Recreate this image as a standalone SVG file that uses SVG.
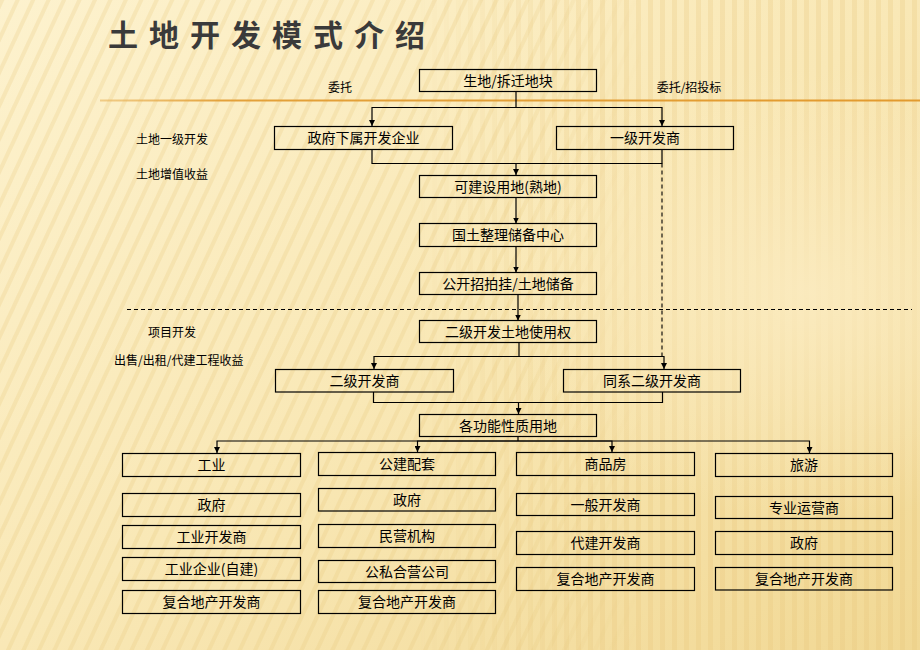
<svg xmlns="http://www.w3.org/2000/svg" width="920" height="650" viewBox="0 0 920 650">
<defs>
<linearGradient id="bg" x1="0" y1="0" x2="1" y2="1">
<stop offset="0" stop-color="#FDF2CE"/>
<stop offset="0.5" stop-color="#F9E8B6"/>
<stop offset="1" stop-color="#F1D894"/>
</linearGradient>
<radialGradient id="glow" cx="0.88" cy="0.45" r="0.35">
<stop offset="0" stop-color="#FBEBC0" stop-opacity="0.9"/>
<stop offset="1" stop-color="#FBEBC0" stop-opacity="0"/>
</radialGradient>
<pattern id="diag" width="14" height="14" patternUnits="userSpaceOnUse" patternTransform="rotate(25)">
<rect width="14" height="14" fill="none"/>
<rect width="4" height="14" fill="#E8C97A" opacity="0.25"/>
</pattern>
<pattern id="vert" width="12" height="12" patternUnits="userSpaceOnUse">
<rect width="5" height="12" fill="#E6C477" opacity="0.25"/>
</pattern>
<linearGradient id="leftfade" x1="0" y1="0" x2="1" y2="0">
<stop offset="0" stop-color="#fff" stop-opacity="1"/>
<stop offset="0.55" stop-color="#fff" stop-opacity="1"/>
<stop offset="0.7" stop-color="#fff" stop-opacity="0"/>
</linearGradient>
<linearGradient id="rightfade" x1="0" y1="0" x2="1" y2="0">
<stop offset="0.45" stop-color="#fff" stop-opacity="0"/>
<stop offset="0.65" stop-color="#fff" stop-opacity="1"/>
</linearGradient>
<mask id="mLeft"><rect width="920" height="650" fill="url(#leftfade)"/></mask>
<mask id="mRight"><rect width="920" height="650" fill="url(#rightfade)"/></mask>
<linearGradient id="orange" x1="100" y1="0" x2="920" y2="0" gradientUnits="userSpaceOnUse">
<stop offset="0" stop-color="#E9B45A" stop-opacity="0.6"/>
<stop offset="0.15" stop-color="#E3A13A"/>
<stop offset="1" stop-color="#E29A2E"/>
</linearGradient>
<marker id="arr" markerWidth="6" markerHeight="6" refX="3" refY="6" orient="0" markerUnits="userSpaceOnUse">
<path d="M0,0 L6,0 L3,6 z" fill="#000"/>
</marker>
<style>
.box{fill:none;stroke:#000;stroke-width:1.2}
.t{font-family:"Noto Sans CJK SC","Liberation Sans",sans-serif;font-size:14px;fill:#000;text-anchor:middle}
.lbl{font-family:"Noto Sans CJK SC","Liberation Sans",sans-serif;font-size:12px;fill:#000}
.c{fill:none;stroke:#000;stroke-width:1.2}
.ca{fill:none;stroke:#000;stroke-width:1.2;marker-end:url(#arr)}
.d{fill:none;stroke:#000;stroke-width:1.1;stroke-dasharray:4 3}
</style>
</defs>
<rect width="920" height="650" fill="url(#bg)"/>
<rect width="920" height="650" fill="url(#diag)" mask="url(#mLeft)"/>
<rect width="920" height="650" fill="url(#vert)" mask="url(#mRight)"/>
<rect width="920" height="650" fill="url(#glow)"/>
<g id="title">
<text x="108" y="46" font-family="'Noto Sans CJK SC',sans-serif" font-size="30" font-weight="bold" letter-spacing="11" fill="#3a3a3a">土地开发模式介绍</text>
</g>
<line x1="100" y1="100.5" x2="920" y2="100.5" stroke="url(#orange)" stroke-width="2"/>
<line x1="127" y1="309.5" x2="912" y2="309.5" class="d"/>
<g id="labels">
<text class="lbl" x="340" y="92" text-anchor="middle">委托</text>
<text class="lbl" x="689" y="92" text-anchor="middle">委托/招投标</text>
<text class="lbl" x="136" y="144">土地一级开发</text>
<text class="lbl" x="136" y="179">土地增值收益</text>
<text class="lbl" x="148" y="337">项目开发</text>
<text class="lbl" x="114" y="365">出售/出租/代建工程收益</text>
</g>
<g id="connectors">
<path class="c" d="M516,92 V107.5"/>
<path class="ca" d="M516,107.5 H372 V126"/>
<path class="ca" d="M516,107.5 H662 V126"/>
<path class="ca" d="M372,149.5 V163.5 H516 V175"/>
<path class="c" d="M662,149.5 V163.5 H516"/>
<path class="d" d="M662,163.5 V356"/>
<path class="ca" d="M516,197.5 V223.5"/>
<path class="ca" d="M516,246.5 V272.5"/>
<path class="ca" d="M518,295 V320.5"/>
<path class="c" d="M519,342.5 V356.5"/>
<path class="ca" d="M519,356.5 H374 V369"/>
<path class="ca" d="M519,356.5 H664 V369"/>
<path class="ca" d="M373.5,392 V402.5 H518.5 V414"/>
<path class="c" d="M662.5,392 V402.5 H518.5"/>
<path class="c" d="M518,437 V441"/>
<path class="ca" d="M518,441 H217 V453"/>
<path class="ca" d="M518,441 H417.5 V452"/>
<path class="ca" d="M518,441 H612 V452"/>
<path class="ca" d="M518,441 H809.5 V453"/>
</g>
<g id="n_shengdi"><rect class="box" x="419.5" y="69.5" width="177" height="22"/><text class="t" x="508" y="85.5">生地/拆迁地块</text></g>
<g id="n_zhengfuxiashu"><rect class="box" x="274.5" y="126.5" width="178" height="23"/><text class="t" x="363.5" y="143">政府下属开发企业</text></g>
<g id="n_yiji"><rect class="box" x="556.5" y="126.5" width="177" height="23"/><text class="t" x="645" y="143">一级开发商</text></g>
<g id="n_kejian"><rect class="box" x="419.5" y="175.5" width="177" height="22"/><text class="t" x="508" y="191.5">可建设用地(熟地)</text></g>
<g id="n_guotu"><rect class="box" x="419.5" y="223.5" width="177" height="23"/><text class="t" x="508" y="240">国土整理储备中心</text></g>
<g id="n_gongkai"><rect class="box" x="419.5" y="272.5" width="177" height="22"/><text class="t" x="508" y="288.5">公开招拍挂/土地储备</text></g>
<g id="n_erjitudi"><rect class="box" x="419.5" y="320.5" width="177" height="22"/><text class="t" x="508" y="336.5">二级开发土地使用权</text></g>
<g id="n_erjikfs"><rect class="box" x="275.5" y="369.5" width="178" height="22.5"/><text class="t" x="364.5" y="386">二级开发商</text></g>
<g id="n_tongxi"><rect class="box" x="563.5" y="369.5" width="177" height="22.5"/><text class="t" x="652" y="386">同系二级开发商</text></g>
<g id="n_gegongneng"><rect class="box" x="419.5" y="414.5" width="177" height="22"/><text class="t" x="508" y="430.5">各功能性质用地</text></g>
<g id="n_gongye"><rect class="box" x="122.5" y="453.5" width="178" height="23"/><text class="t" x="211.5" y="470">工业</text></g>
<g id="n_gy_zf"><rect class="box" x="122.5" y="493.5" width="178" height="23"/><text class="t" x="211.5" y="510">政府</text></g>
<g id="n_gy_kfs"><rect class="box" x="122.5" y="525.5" width="178" height="23"/><text class="t" x="211.5" y="542">工业开发商</text></g>
<g id="n_gy_qy"><rect class="box" x="122.5" y="557.5" width="178" height="23"/><text class="t" x="211.5" y="574">工业企业(自建)</text></g>
<g id="n_gy_fh"><rect class="box" x="122.5" y="590.5" width="178" height="23"/><text class="t" x="211.5" y="607">复合地产开发商</text></g>
<g id="n_gongjian"><rect class="box" x="318.5" y="452.5" width="177" height="23"/><text class="t" x="407" y="469">公建配套</text></g>
<g id="n_gj_zf"><rect class="box" x="318.5" y="488.5" width="177" height="22.5"/><text class="t" x="407" y="505">政府</text></g>
<g id="n_gj_my"><rect class="box" x="318.5" y="524.5" width="177" height="23"/><text class="t" x="407" y="541">民营机构</text></g>
<g id="n_gj_gs"><rect class="box" x="318.5" y="560.5" width="177" height="22"/><text class="t" x="407" y="576.5">公私合营公司</text></g>
<g id="n_gj_fh"><rect class="box" x="318.5" y="590.5" width="177" height="23"/><text class="t" x="407" y="607">复合地产开发商</text></g>
<g id="n_shangpin"><rect class="box" x="516.5" y="452.5" width="178" height="23"/><text class="t" x="605.5" y="469">商品房</text></g>
<g id="n_sp_yb"><rect class="box" x="516.5" y="493.5" width="178" height="22"/><text class="t" x="605.5" y="509.5">一般开发商</text></g>
<g id="n_sp_dj"><rect class="box" x="516.5" y="531.5" width="178" height="23"/><text class="t" x="605.5" y="548">代建开发商</text></g>
<g id="n_sp_fh"><rect class="box" x="516.5" y="567.5" width="178" height="23"/><text class="t" x="605.5" y="584">复合地产开发商</text></g>
<g id="n_lvyou"><rect class="box" x="715.5" y="453.5" width="177" height="23"/><text class="t" x="804" y="470">旅游</text></g>
<g id="n_ly_zy"><rect class="box" x="715.5" y="496.5" width="177" height="22"/><text class="t" x="804" y="512.5">专业运营商</text></g>
<g id="n_ly_zf"><rect class="box" x="715.5" y="531.5" width="177" height="23"/><text class="t" x="804" y="548">政府</text></g>
<g id="n_ly_fh"><rect class="box" x="715.5" y="567.5" width="177" height="22.5"/><text class="t" x="804" y="584">复合地产开发商</text></g>
</svg>
